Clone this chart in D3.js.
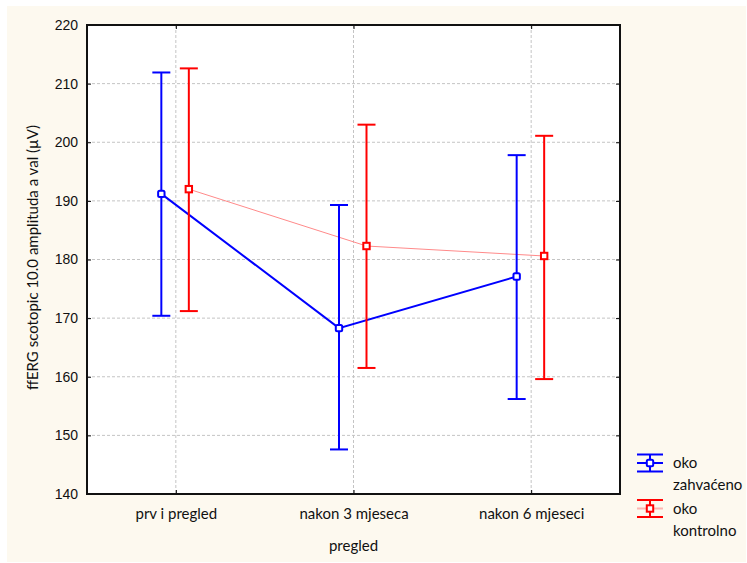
<!DOCTYPE html>
<html>
<head>
<meta charset="utf-8">
<script src="https://cdn.jsdelivr.net/npm/d3@7"></script>
<style>
  html, body { margin: 0; padding: 0; background: #fff; }
  svg text { fill: #111; }
</style>
</head>
<body>
<div id="chart"></div>
<script>
// categories on the x axis
const categories = ["prv i pregled", "nakon 3 mjeseca", "nakon 6 mjeseci"];

// oko zahvaćeno (blue)
const zahvacenoMean = [191.2, 168.3, 177.1];
const zahvacenoHigh = [211.9, 189.3, 197.8];
const zahvacenoLow = [170.4, 147.6, 156.2];

// oko kontrolno (red)
const kontrolnoMean = [192.0, 182.3, 180.6];
const kontrolnoHigh = [212.6, 203.0, 201.1];
const kontrolnoLow = [171.2, 161.5, 159.6];

const yTicks = [140, 150, 160, 170, 180, 190, 200, 210, 220];
const seriesNames = [["oko", "zahvaćeno"], ["oko", "kontrolno"]];

const W = 747, H = 563;
const plot = { left: 87, right: 620, top: 25, bottom: 494 };

const svg = d3.select("#chart").append("svg")
    .attr("width", W)
    .attr("height", H);

// cream background panel
svg.append("rect")
    .attr("x", 7).attr("y", 6)
    .attr("width", W - 8).attr("height", H - 7)
    .attr("fill", "#fdf9ef");

svg.append("rect")
    .attr("x", plot.left).attr("y", plot.top)
    .attr("width", plot.right - plot.left).attr("height", plot.bottom - plot.top)
    .attr("fill", "#fff");

const x = d3.scalePoint()
    .domain(categories)
    .range([plot.left, plot.right])
    .padding(0.5);

const y = d3.scaleLinear()
    .domain([140, 220])
    .range([plot.bottom, plot.top]);

// grid
const grid = svg.append("g").attr("class", "grid");
grid.selectAll(".hg")
    .data(yTicks.slice(1, -1))
    .enter().append("line")
    .attr("x1", plot.left).attr("x2", plot.right)
    .attr("y1", d => y(d)).attr("y2", d => y(d))
    .attr("stroke", "#c4c4c4").attr("stroke-dasharray", "3,2");
grid.selectAll(".vg")
    .data(categories)
    .enter().append("line")
    .attr("x1", d => x(d)).attr("x2", d => x(d))
    .attr("y1", plot.top).attr("y2", plot.bottom)
    .attr("stroke", "#c4c4c4").attr("stroke-dasharray", "3,2");

// axes with inward ticks
const tickFont = "'Liberation Sans', Arial, sans-serif";
const labelFont = "Lato, 'Open Sans', sans-serif";

const yAxis = svg.append("g")
    .attr("transform", `translate(${plot.left},0)`)
    .call(d3.axisLeft(y).tickValues(yTicks).tickSizeInner(-4).tickSizeOuter(0).tickPadding(9));
yAxis.selectAll("text").style("font-family", tickFont).style("font-size", "14px");

svg.append("g")
    .attr("transform", `translate(${plot.right},0)`)
    .call(d3.axisRight(y).tickValues(yTicks).tickSizeInner(-4).tickSizeOuter(0).tickFormat(""));

const xAxis = svg.append("g")
    .attr("transform", `translate(0,${plot.bottom})`)
    .call(d3.axisBottom(x).tickSizeInner(-4).tickSizeOuter(0).tickPadding(14));
xAxis.selectAll("text").style("font-family", labelFont).style("font-size", "15px");

svg.append("g")
    .attr("transform", `translate(0,${plot.top})`)
    .call(d3.axisTop(x).tickSizeInner(-4).tickSizeOuter(0).tickFormat(""));

svg.selectAll(".domain").remove();
svg.selectAll(".tick line").attr("stroke", "#000");

// frame
svg.append("rect")
    .attr("x", plot.left).attr("y", plot.top)
    .attr("width", plot.right - plot.left).attr("height", plot.bottom - plot.top)
    .attr("fill", "none").attr("stroke", "#111").attr("stroke-width", 2);

// axis titles
svg.append("text")
    .attr("x", x(categories[1])).attr("y", 551)
    .attr("text-anchor", "middle")
    .style("font-family", labelFont).style("font-size", "15px")
    .text("pregled");

svg.append("text")
    .attr("transform", `translate(38,${(plot.top + plot.bottom) / 2 - 2}) rotate(-90)`)
    .attr("text-anchor", "middle")
    .style("font-family", labelFont).style("font-size", "15px")
    .text("ffERG scotopic 10.0 amplituda a val (µV)");

const series = [
    { mean: zahvacenoMean, hi: zahvacenoHigh, lo: zahvacenoLow, color: "#0000ff", line: "#0000ff", lw: 2, dx: -14.5 },
    { mean: kontrolnoMean, hi: kontrolnoHigh, lo: kontrolnoLow, color: "#ff0000", line: "#ff8a8a", lw: 1, dx: 13 }
];

const cap = 9, ms = 3.2;

// connecting lines
series.slice().reverse().forEach(s => {
    const line = d3.line()
        .x((d, i) => x(categories[i]) + s.dx)
        .y(d => y(d));
    svg.append("path")
        .datum(s.mean)
        .attr("d", line)
        .attr("fill", "none")
        .attr("stroke", s.line)
        .attr("stroke-width", s.lw);
});

series.forEach(s => {
    const g = svg.append("g");
    categories.forEach((c, i) => {
        const cx = x(c) + s.dx;
        g.append("line")
            .attr("x1", cx).attr("x2", cx)
            .attr("y1", y(s.hi[i])).attr("y2", y(s.lo[i]))
            .attr("stroke", s.color).attr("stroke-width", 2);
        [s.hi[i], s.lo[i]].forEach(v => {
            g.append("line")
                .attr("x1", cx - cap).attr("x2", cx + cap)
                .attr("y1", y(v)).attr("y2", y(v))
                .attr("stroke", s.color).attr("stroke-width", 2);
        });
    });
});

series.forEach(s => {
    svg.append("g").selectAll("rect")
        .data(s.mean)
        .enter().append("rect")
        .attr("x", (d, i) => x(categories[i]) + s.dx - ms)
        .attr("y", d => y(d) - ms)
        .attr("width", ms * 2).attr("height", ms * 2)
        .attr("rx", s === series[0] ? 1.5 : 0)
        .attr("fill", "#fff")
        .attr("stroke", s.color).attr("stroke-width", 2);
});

// legend
const legend = svg.append("g");
series.forEach((s, k) => {
    const ly = 463 + k * 45.5;
    const lx = 650;
    const lg = legend.append("g");
    lg.append("line").attr("x1", lx - 13).attr("x2", lx + 13)
        .attr("y1", ly).attr("y2", ly)
        .attr("stroke", s.line).attr("stroke-width", 2).attr("opacity", k === 1 ? 0.6 : 1);
    [-8.5, 8.5].forEach(o => {
        lg.append("line").attr("x1", lx - 13).attr("x2", lx + 13)
            .attr("y1", ly + o).attr("y2", ly + o)
            .attr("stroke", s.color).attr("stroke-width", 2);
    });
    lg.append("line").attr("x1", lx).attr("x2", lx)
        .attr("y1", ly - 8.5).attr("y2", ly + 8.5)
        .attr("stroke", s.color).attr("stroke-width", 2);
    lg.append("rect").attr("x", lx - ms).attr("y", ly - ms)
        .attr("width", ms * 2).attr("height", ms * 2)
        .attr("rx", k === 0 ? 1.5 : 0)
        .attr("fill", "#fff").attr("stroke", s.color).attr("stroke-width", 2);
    seriesNames[k].forEach((t, j) => {
        lg.append("text")
            .attr("x", 673).attr("y", ly + 5 + j * 22)
            .style("font-family", labelFont).style("font-size", "15px")
            .text(t);
    });
});
</script>
</body>
</html>
